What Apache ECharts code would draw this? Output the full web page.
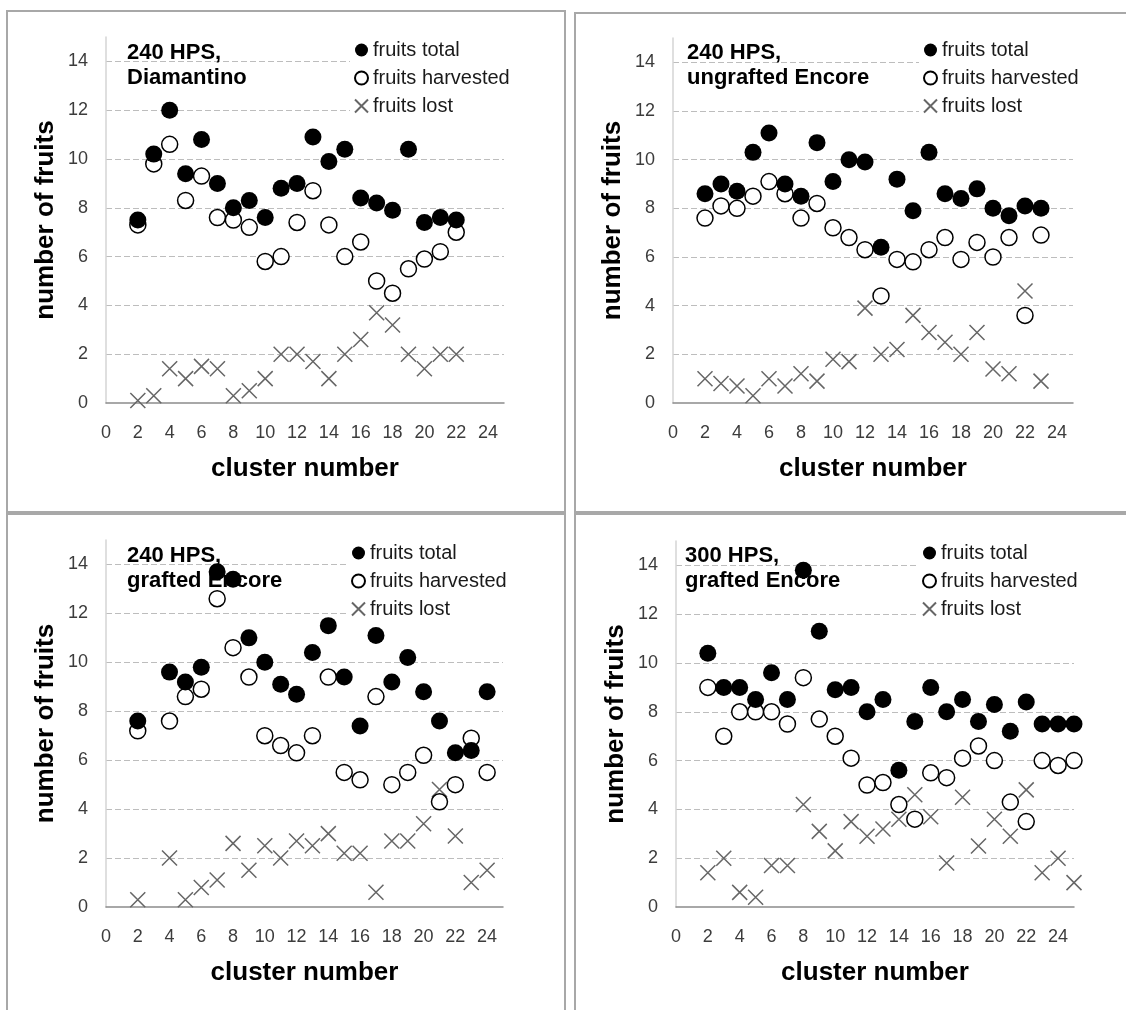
<!DOCTYPE html>
<html>
<head>
<meta charset="utf-8">
<script src="https://cdn.jsdelivr.net/npm/echarts@6/dist/echarts.min.js"></script>
<style>
  html, body { margin: 0; padding: 0; background: #fff; }
  #chart { width: 1126px; height: 1010px; }
</style>
</head>
<body>
<div id="chart"></div>
<script>
// Fruits per cluster for four growing treatments

// 240 HPS, Diamantino
const diaClusters  = [2, 3, 4, 5, 6, 7, 8, 9, 10, 11, 12, 13, 14, 15, 16, 17, 18, 19, 20, 21, 22];
const diaTotal     = [7.5, 10.2, 12.0, 9.4, 10.8, 9.0, 8.0, 8.3, 7.6, 8.8, 9.0, 10.9, 9.9, 10.4, 8.4, 8.2, 7.9, 10.4, 7.4, 7.6, 7.5];
const diaHarvested = [7.3, 9.8, 10.6, 8.3, 9.3, 7.6, 7.5, 7.2, 5.8, 6.0, 7.4, 8.7, 7.3, 6.0, 6.6, 5.0, 4.5, 5.5, 5.9, 6.2, 7.0];
const diaLost      = [0.1, 0.3, 1.4, 1.0, 1.5, 1.4, 0.3, 0.5, 1.0, 2.0, 2.0, 1.7, 1.0, 2.0, 2.6, 3.7, 3.2, 2.0, 1.4, 2.0, 2.0];

// 240 HPS, ungrafted Encore
const ungClusters  = [2, 3, 4, 5, 6, 7, 8, 9, 10, 11, 12, 13, 14, 15, 16, 17, 18, 19, 20, 21, 22, 23];
const ungTotal     = [8.6, 9.0, 8.7, 10.3, 11.1, 9.0, 8.5, 10.7, 9.1, 10.0, 9.9, 6.4, 9.2, 7.9, 10.3, 8.6, 8.4, 8.8, 8.0, 7.7, 8.1, 8.0];
const ungHarvested = [7.6, 8.1, 8.0, 8.5, 9.1, 8.6, 7.6, 8.2, 7.2, 6.8, 6.3, 4.4, 5.9, 5.8, 6.3, 6.8, 5.9, 6.6, 6.0, 6.8, 3.6, 6.9];
const ungLost      = [1.0, 0.8, 0.7, 0.3, 1.0, 0.7, 1.2, 0.9, 1.8, 1.7, 3.9, 2.0, 2.2, 3.6, 2.9, 2.5, 2.0, 2.9, 1.4, 1.2, 4.6, 0.9];

// 240 HPS, grafted Encore
const grfClusters  = [2, 4, 5, 6, 7, 8, 9, 10, 11, 12, 13, 14, 15, 16, 17, 18, 19, 20, 21, 22, 23, 24];
const grfTotal     = [7.6, 9.6, 9.2, 9.8, 13.7, 13.4, 11.0, 10.0, 9.1, 8.7, 10.4, 11.5, 9.4, 7.4, 11.1, 9.2, 10.2, 8.8, 7.6, 6.3, 6.4, 8.8];
const grfHarvested = [7.2, 7.6, 8.6, 8.9, 12.6, 10.6, 9.4, 7.0, 6.6, 6.3, 7.0, 9.4, 5.5, 5.2, 8.6, 5.0, 5.5, 6.2, 4.3, 5.0, 6.9, 5.5];
const grfLost      = [0.3, 2.0, 0.3, 0.8, 1.1, 2.6, 1.5, 2.5, 2.0, 2.7, 2.5, 3.0, 2.2, 2.2, 0.6, 2.7, 2.7, 3.4, 4.8, 2.9, 1.0, 1.5];

// 300 HPS, grafted Encore
const hpsClusters  = [2, 3, 4, 5, 6, 7, 8, 9, 10, 11, 12, 13, 14, 15, 16, 17, 18, 19, 20, 21, 22, 23, 24, 25];
const hpsTotal     = [10.4, 9.0, 9.0, 8.5, 9.6, 8.5, 13.8, 11.3, 8.9, 9.0, 8.0, 8.5, 5.6, 7.6, 9.0, 8.0, 8.5, 7.6, 8.3, 7.2, 8.4, 7.5, 7.5, 7.5];
const hpsHarvested = [9.0, 7.0, 8.0, 8.0, 8.0, 7.5, 9.4, 7.7, 7.0, 6.1, 5.0, 5.1, 4.2, 3.6, 5.5, 5.3, 6.1, 6.6, 6.0, 4.3, 3.5, 6.0, 5.8, 6.0];
const hpsLost      = [1.4, 2.0, 0.6, 0.4, 1.7, 1.7, 4.2, 3.1, 2.3, 3.5, 2.9, 3.2, 3.6, 4.6, 3.7, 1.8, 4.5, 2.5, 3.6, 2.9, 4.8, 1.4, 2.0, 1.0];

const panelTitles = ['240 HPS,\nDiamantino', '240 HPS,\nungrafted Encore', '240 HPS,\ngrafted Encore', '300 HPS,\ngrafted Encore'];
const seriesNames = ['fruits total', 'fruits harvested', 'fruits lost'];
const xTitle = 'cluster number';
const yTitle = 'number of fruits';

const panels = [
  { clusters: diaClusters, total: diaTotal, harvested: diaHarvested, lost: diaLost },
  { clusters: ungClusters, total: ungTotal, harvested: ungHarvested, lost: ungLost },
  { clusters: grfClusters, total: grfTotal, harvested: grfHarvested, lost: grfLost },
  { clusters: hpsClusters, total: hpsTotal, harvested: hpsHarvested, lost: hpsLost }
];

// panel layout (pixels)
const gridBoxes = [
  { left: 106, top: 37, width: 398, height: 366 },
  { left: 673, top: 38, width: 400, height: 365 },
  { left: 106, top: 540, width: 397, height: 367 },
  { left: 676, top: 541, width: 398, height: 366 }
];
const frames = [
  { x: 7, y: 11, w: 558, h: 501 },
  { x: 575, y: 13, w: 560, h: 499 },
  { x: 7, y: 514, w: 558, h: 510 },
  { x: 575, y: 514, w: 560, h: 510 }
];
const titlePos = [
  { left: 127, top: 40 },
  { left: 687, top: 40 },
  { left: 127, top: 543 },
  { left: 685, top: 543 }
];
const legendPos = [
  { left: 350, top: 37 },
  { left: 919, top: 37 },
  { left: 347, top: 540 },
  { left: 918, top: 540 }
];

const FONT = '"Liberation Sans", Arial, sans-serif';
const CROSS = 'path://M0,0L10,10M10,0L0,10';

const pairs = (xs, ys) => xs.map((x, i) => [x, ys[i]]);

const option = {
  animation: false,
  backgroundColor: '#fff',
  textStyle: { fontFamily: FONT },
  graphic: frames.map(f => ({
    type: 'rect',
    shape: { x: f.x, y: f.y, width: f.w, height: f.h },
    style: { fill: 'none', stroke: '#a8a8a8', lineWidth: 2 },
    silent: true,
    z: 0
  })),
  title: panelTitles.map((t, i) => ({
    text: t,
    left: titlePos[i].left,
    top: titlePos[i].top,
    padding: 0,
    z: 1,
    textStyle: { fontFamily: FONT, fontWeight: 'bold', fontSize: 22, lineHeight: 25, color: '#000' }
  })),
  legend: legendPos.map((p, i) => ({
    left: p.left,
    top: p.top,
    orient: 'vertical',
    padding: [2, 4, 4, 4],
    backgroundColor: '#fff',
    itemWidth: 13,
    itemHeight: 13,
    itemGap: 6,
    selectedMode: false,
    textStyle: { fontFamily: FONT, fontSize: 20, lineHeight: 22, color: '#1a1a1a' },
    data: seriesNames.map(n => ({ name: n }))
  })),
  grid: gridBoxes.map(g => ({ left: g.left, top: g.top, width: g.width, height: g.height, containLabel: false })),
  xAxis: gridBoxes.map((g, i) => ({
    type: 'value',
    gridIndex: i,
    min: 0,
    max: 25,
    interval: 2,
    name: xTitle,
    nameLocation: 'middle',
    nameGap: 53,
    nameTextStyle: { fontFamily: FONT, fontWeight: 'bold', fontSize: 26, color: '#000' },
    axisLine: { show: true, onZero: false, lineStyle: { color: '#8c8c8c', width: 1.5 } },
    axisTick: { show: false },
    axisLabel: { fontFamily: FONT, fontSize: 18, color: '#3c3c3c', margin: 21, showMaxLabel: false },
    splitLine: { show: false }
  })),
  yAxis: gridBoxes.map((g, i) => ({
    type: 'value',
    gridIndex: i,
    min: 0,
    max: 15,
    interval: 2,
    name: yTitle,
    nameLocation: 'middle',
    nameRotate: 90,
    nameGap: 47,
    nameTextStyle: { fontFamily: FONT, fontWeight: 'bold', fontSize: 26, color: '#000' },
    axisLine: { show: true, lineStyle: { color: '#d4d4d4', width: 1.5 } },
    axisTick: { show: false },
    axisLabel: { fontFamily: FONT, fontSize: 18, color: '#3c3c3c', margin: 18, showMaxLabel: false },
    splitLine: { show: true, showMinLine: false, showMaxLine: false, lineStyle: { color: '#bdbdbd', width: 1, type: [6, 3] } }
  })),
  series: []
};

panels.forEach((p, i) => {
  option.series.push({
    name: seriesNames[2],
    type: 'scatter',
    xAxisIndex: i, yAxisIndex: i,
    clip: false,
    symbol: CROSS,
    symbolSize: 15,
    itemStyle: { color: 'rgba(0,0,0,0)', borderColor: '#666', borderWidth: 1.5, opacity: 1 },
    data: pairs(p.clusters, p.lost),
    z: 2
  });
  option.series.push({
    name: seriesNames[1],
    type: 'scatter',
    xAxisIndex: i, yAxisIndex: i,
    clip: false,
    symbol: 'circle',
    symbolSize: 16,
    itemStyle: { color: '#fff', borderColor: '#000', borderWidth: 1.5, opacity: 1 },
    data: pairs(p.clusters, p.harvested),
    z: 3
  });
  option.series.push({
    name: seriesNames[0],
    type: 'scatter',
    xAxisIndex: i, yAxisIndex: i,
    clip: false,
    symbol: 'circle',
    symbolSize: 17,
    itemStyle: { color: '#000', borderColor: '#000', borderWidth: 0, opacity: 1 },
    data: pairs(p.clusters, p.total),
    z: 4
  });
});

const chart = echarts.init(document.getElementById('chart'), null, { renderer: 'canvas' });
chart.setOption(option);
</script>
</body>
</html>
